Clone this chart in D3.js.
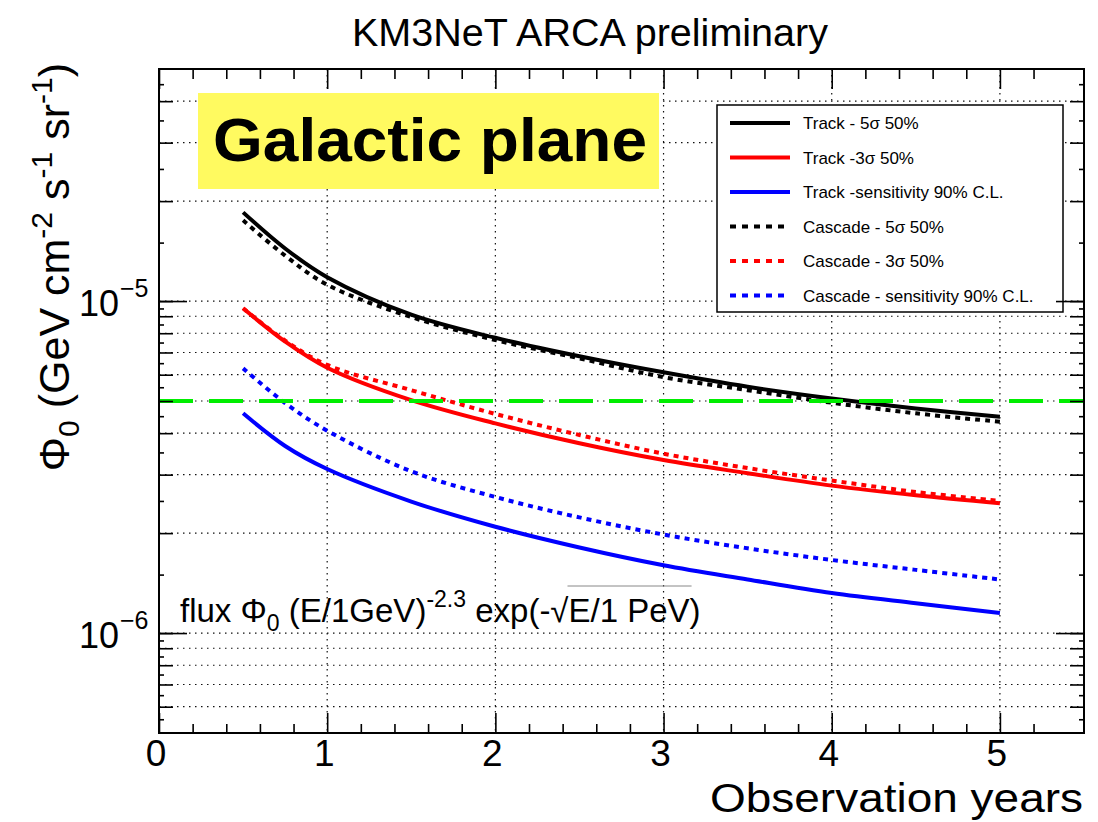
<!DOCTYPE html>
<html>
<head>
<meta charset="utf-8">
<script src="https://cdn.jsdelivr.net/npm/d3@7"></script>
<style>
  body { margin: 0; background: #fff; }
  text { font-family: "Liberation Sans", Arial, Helvetica, sans-serif; fill: #000; }
</style>
</head>
<body>
<script>
// observation time (years) at which each curve was read
const years = [0.5, 0.75, 1, 1.5, 2, 2.5, 3, 3.5, 4, 4.5, 5]

// flux normalisation Phi_0 (GeV^-1 cm^-2 s^-1 sr^-1)
const track5s   = [1.85e-5, 1.44e-5, 1.18e-5, 9.1e-6, 7.75e-6, 6.82e-6, 6.1e-6, 5.52e-6, 5.09e-6, 4.75e-6, 4.48e-6]
const track3s   = [9.51e-6, 7.55e-6, 6.3e-6, 5.03e-6, 4.28e-6, 3.73e-6, 3.32e-6, 3.03e-6, 2.78e-6, 2.60e-6, 2.46e-6]
const trackSens = [4.59e-6, 3.66e-6, 3.12e-6, 2.49e-6, 2.09e-6, 1.81e-6, 1.60e-6, 1.45e-6, 1.32e-6, 1.23e-6, 1.15e-6]
const casc5s    = [1.75e-5, 1.37e-5, 1.12e-5, 8.95e-6, 7.63e-6, 6.72e-6, 5.9e-6, 5.39e-6, 4.94e-6, 4.59e-6, 4.33e-6]
const casc3s    = [9.51e-6, 7.6e-6, 6.42e-6, 5.39e-6, 4.57e-6, 3.95e-6, 3.47e-6, 3.14e-6, 2.88e-6, 2.66e-6, 2.50e-6]
const cascSens  = [6.27e-6, 4.93e-6, 4.07e-6, 3.07e-6, 2.57e-6, 2.23e-6, 1.98e-6, 1.80e-6, 1.66e-6, 1.55e-6, 1.45e-6]

// reference flux level (green dashed line)
const refFlux = 5e-6

const seriesNames = ['Track - 5σ 50%', 'Track -3σ 50%', 'Track -sensitivity 90% C.L.',
  'Cascade - 5σ 50%', 'Cascade - 3σ 50%', 'Cascade - sensitivity 90% C.L.']
const seriesValues = [track5s, track3s, trackSens, casc5s, casc3s, cascSens]

const xTickLabels = [0, 1, 2, 3, 4, 5]
const yTickLabels = [{ v: 1e-5, exp: '−5' }, { v: 1e-6, exp: '−6' }]

// styles
const colors = ['#000', '#f00', '#00f', '#000', '#f00', '#00f']
const dashed = [false, false, false, true, true, true]

let width = 1098,
  height = 822,
  plot = { left: 159, right: 1084, top: 69, bottom: 733 }

let svg = d3.select('body').append('svg')
  .attr('width', width)
  .attr('height', height)

let x = d3.scaleLinear().domain([0, 5.5]).range([plot.left, plot.right])
let y = d3.scaleLog().domain([5e-7, 5e-5]).range([plot.bottom, plot.top])

// grid values on log axis: 1..9 x 10^n
let minorY = []
let halfY = []
for (let e = -7; e <= -5; e++) {
  for (let m = 1; m <= 9; m++) {
    let v = m * Math.pow(10, e)
    if (v > 5.01e-7 && v < 4.99e-5) minorY.push(v)
    let h = (m + 0.5) * Math.pow(10, e)
    if (h > 5.01e-7 && h < 4.99e-5) halfY.push(h)
  }
}
let majorY = [1e-6, 1e-5]

// grid
let grid = svg.append('g')
  .attr('stroke', '#111')
  .attr('stroke-width', 1.2)
  .attr('stroke-dasharray', '1.5,4.5')
grid.selectAll('line.h')
  .data(minorY)
  .enter()
  .append('line')
  .attr('x1', plot.left).attr('x2', plot.right)
  .attr('y1', d => y(d)).attr('y2', d => y(d))
grid.selectAll('line.v')
  .data([1, 2, 3, 4, 5])
  .enter()
  .append('line')
  .attr('x1', d => x(d)).attr('x2', d => x(d))
  .attr('y1', plot.top).attr('y2', plot.bottom)

// curves
let line = d3.line()
  .x(d => x(d[0]))
  .y(d => y(d[1]))
  .curve(d3.curveCatmullRom.alpha(0.5))

svg.append('g')
  .selectAll('path')
  .data(seriesValues)
  .enter()
  .append('path')
  .attr('d', vals => line(vals.map((v, i) => [years[i], v])))
  .attr('fill', 'none')
  .attr('stroke', (d, i) => colors[i])
  .attr('stroke-width', 4)
  .attr('stroke-dasharray', (d, i) => dashed[i] ? '5,5' : null)

svg.append('line')
  .attr('x1', plot.left).attr('x2', plot.right)
  .attr('y1', y(refFlux)).attr('y2', y(refFlux))
  .attr('stroke', '#00ee00')
  .attr('stroke-width', 4)
  .attr('stroke-dasharray', '34,16')

// Galactic plane label
svg.append('rect')
  .attr('x', 198).attr('y', 93)
  .attr('width', 461).attr('height', 96)
  .attr('fill', '#fffa60')
svg.append('text')
  .attr('x', 213).attr('y', 161)
  .attr('font-size', 61)
  .attr('font-weight', 'bold')
  .attr('textLength', 434)
  .attr('lengthAdjust', 'spacingAndGlyphs')
  .text('Galactic plane')

// legend
let legend = svg.append('g')
legend.append('rect')
  .attr('x', 717).attr('y', 105)
  .attr('width', 346).attr('height', 207)
  .attr('fill', '#fff')
  .attr('stroke', '#000')
  .attr('stroke-width', 1.5)
let rows = legend.selectAll('g.row')
  .data(seriesNames)
  .enter()
  .append('g')
  .attr('transform', (d, i) => 'translate(0,' + (123 + i * 34.5) + ')')
rows.append('line')
  .attr('x1', 730).attr('x2', 790)
  .attr('stroke', (d, i) => colors[i])
  .attr('stroke-width', 4)
  .attr('stroke-dasharray', (d, i) => dashed[i] ? '6,6' : null)
rows.append('text')
  .attr('x', 803).attr('y', 6)
  .attr('font-size', 17)
  .text(d => d)

// frame
svg.append('rect')
  .attr('x', plot.left).attr('y', plot.top)
  .attr('width', plot.right - plot.left).attr('height', plot.bottom - plot.top)
  .attr('fill', 'none')
  .attr('stroke', '#000')
  .attr('stroke-width', 2)

// ticks on all four sides
function ticks (axis, vals, size) {
  let g = svg.append('g').call(axis.tickValues(vals).tickSize(size).tickSizeOuter(0).tickFormat(''))
  g.select('.domain').remove()
  g.selectAll('line').attr('stroke', '#000').attr('stroke-width', 1.6)
  return g
}
let xMinor = d3.range(0, 27).map(i => i * 0.2).filter(v => Math.abs(v - Math.round(v)) > 0.01)
let xMajor = [0, 1, 2, 3, 4, 5]
ticks(d3.axisBottom(x), xMinor, -9).attr('transform', 'translate(0,' + plot.bottom + ')')
ticks(d3.axisBottom(x), xMajor, -20).attr('transform', 'translate(0,' + plot.bottom + ')')
ticks(d3.axisTop(x), xMinor, -10).attr('transform', 'translate(0,' + plot.top + ')')
ticks(d3.axisTop(x), xMajor, -20).attr('transform', 'translate(0,' + plot.top + ')')
ticks(d3.axisLeft(y), halfY, -5).attr('transform', 'translate(' + plot.left + ',0)')
ticks(d3.axisLeft(y), minorY, -14).attr('transform', 'translate(' + plot.left + ',0)')
ticks(d3.axisLeft(y), majorY, -28).attr('transform', 'translate(' + plot.left + ',0)')
ticks(d3.axisRight(y), halfY, -5).attr('transform', 'translate(' + plot.right + ',0)')
ticks(d3.axisRight(y), minorY, -14).attr('transform', 'translate(' + plot.right + ',0)')
ticks(d3.axisRight(y), majorY, -28).attr('transform', 'translate(' + plot.right + ',0)')

// tick labels
svg.append('g')
  .selectAll('text')
  .data(xTickLabels)
  .enter()
  .append('text')
  .attr('x', d => x(d) - 3)
  .attr('y', 766)
  .attr('text-anchor', 'middle')
  .attr('font-size', 37)
  .text(d => d)

let yl = svg.append('g')
  .selectAll('g')
  .data(yTickLabels)
  .enter()
  .append('g')
yl.append('text')
  .attr('x', 119)
  .attr('y', d => y(d.v) + 15)
  .attr('text-anchor', 'end')
  .attr('font-size', 36)
  .text('10')
yl.append('text')
  .attr('x', 120)
  .attr('y', d => y(d.v) - 4)
  .attr('font-size', 25)
  .text(d => d.exp)

// axis titles
svg.append('text')
  .attr('x', 710)
  .attr('y', 812)
  .attr('font-size', 40)
  .attr('textLength', 373)
  .attr('lengthAdjust', 'spacingAndGlyphs')
  .text('Observation years')

let yt = svg.append('text')
  .attr('transform', 'translate(69,63) rotate(-90)')
  .attr('text-anchor', 'end')
  .attr('font-size', 43)
yt.append('tspan').text('Φ')
yt.append('tspan').attr('font-size', 30).attr('dy', 10).text('0')
yt.append('tspan').attr('dy', -10).text(' (GeV cm')
yt.append('tspan').attr('font-size', 30).attr('dy', -17).text('-2')
yt.append('tspan').attr('dy', 17).text(' s')
yt.append('tspan').attr('font-size', 30).attr('dy', -17).text('-1')
yt.append('tspan').attr('dy', 17).text(' sr')
yt.append('tspan').attr('font-size', 30).attr('dy', -17).text('-1')
yt.append('tspan').attr('dy', 17).text(')')

// title
svg.append('text')
  .attr('x', 352)
  .attr('y', 46)
  .attr('font-size', 38)
  .attr('textLength', 476)
  .attr('lengthAdjust', 'spacingAndGlyphs')
  .text('KM3NeT ARCA preliminary')

// flux formula
let ft = svg.append('text')
  .attr('x', 180)
  .attr('y', 622)
  .attr('font-size', 33)
ft.append('tspan').text('flux Φ')
ft.append('tspan').attr('font-size', 23).attr('dy', 9).text('0')
ft.append('tspan').attr('dy', -9).text(' (E/1GeV)')
ft.append('tspan').attr('font-size', 23).attr('dy', -15).text('-2.3')
ft.append('tspan').attr('dy', 15).text(' exp(-√E/1 PeV)')
let fnode = ft.node()
let full = fnode.textContent
let rootIdx = full.indexOf('√')
let endIdx = full.indexOf('V)', rootIdx)
let x0 = fnode.getEndPositionOfChar(rootIdx).x
let x1 = fnode.getEndPositionOfChar(endIdx).x
svg.append('line')
  .attr('x1', x0 - 1).attr('x2', x1 + 2)
  .attr('y1', 586).attr('y2', 586)
  .attr('stroke', '#888')
  .attr('stroke-width', 1)
</script>
</body>
</html>
